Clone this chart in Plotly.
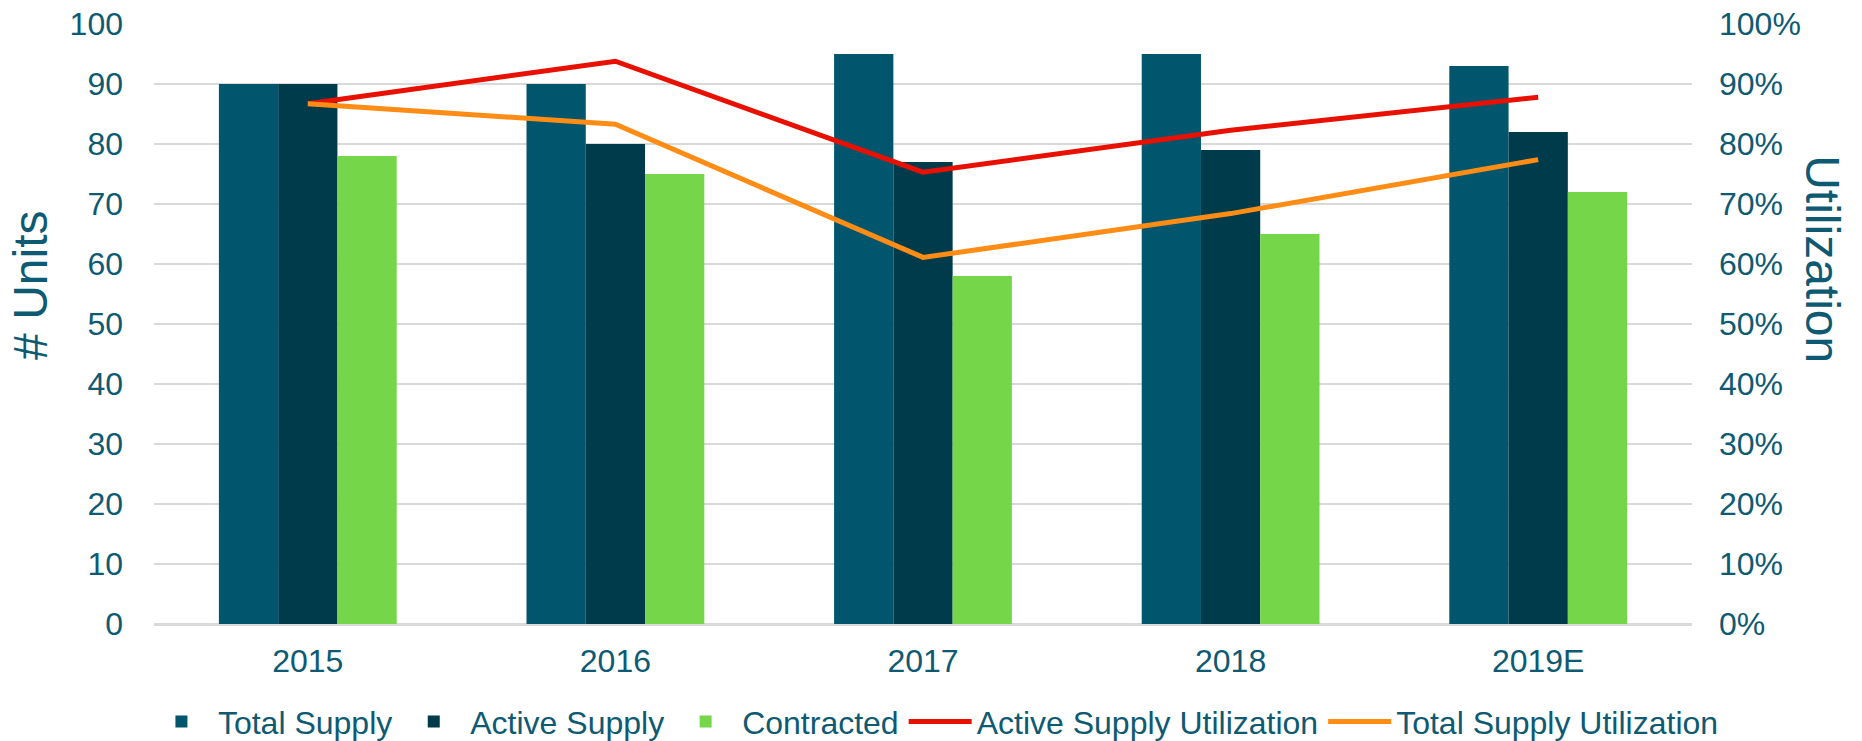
import plotly.graph_objects as go

categories = ["2015", "2016", "2017", "2018", "2019E"]
total_supply = [90, 90, 95, 95, 93]
active_supply = [90, 80, 77, 79, 82]
contracted = [78, 75, 58, 65, 72]
active_util = [0.867, 0.938, 0.753, 0.823, 0.878]
total_util = [0.867, 0.833, 0.611, 0.684, 0.774]

TEXT = "#0E5A72"
FONT = "Liberation Sans, Arial, sans-serif"

fig = go.Figure()
fig.add_trace(go.Bar(x=categories, y=total_supply, name="Total Supply",
                     marker=dict(color="#01566E", line=dict(width=0))))
fig.add_trace(go.Bar(x=categories, y=active_supply, name="Active Supply",
                     marker=dict(color="#003B4B", line=dict(width=0))))
fig.add_trace(go.Bar(x=categories, y=contracted, name="Contracted",
                     marker=dict(color="#75D64A", line=dict(width=0))))
fig.add_trace(go.Scatter(x=categories, y=active_util, name="Active Supply Utilization",
                         mode="lines", yaxis="y2",
                         line=dict(color="#E81000", width=5)))
fig.add_trace(go.Scatter(x=categories, y=total_util, name="Total Supply Utilization",
                         mode="lines", yaxis="y2",
                         line=dict(color="#FF8C14", width=5)))

fig.update_layout(
    template="none",
    width=1862, height=741,
    margin=dict(l=154, r=170, t=24, b=117, autoexpand=False),
    paper_bgcolor="white", plot_bgcolor="white",
    font=dict(family=FONT, size=32, color=TEXT),
    barmode="group", bargap=0.422, bargroupgap=0,
    showlegend=True,
    legend=dict(orientation="h", x=-0.0059, xanchor="left", y=-0.163, yanchor="middle",
                font=dict(size=32, color=TEXT), itemwidth=63,
                bgcolor="rgba(0,0,0,0)", tracegroupgap=0),
    xaxis=dict(type="category", showgrid=False, zeroline=False, showline=False,
               automargin=False, ticks="", tickfont=dict(size=32, color=TEXT),
               ticklabelstandoff=15),
    yaxis=dict(range=[0, 100], dtick=10, showgrid=True, gridcolor="#D9D9D9", gridwidth=2,
               zeroline=True, zerolinecolor="#D9D9D9", zerolinewidth=3,
               automargin=False, showline=False, ticks="",
               tickfont=dict(size=32, color=TEXT), ticklabelstandoff=30),
    yaxis2=dict(range=[0, 1], dtick=0.1, tickformat=".0%", overlaying="y", side="right",
                showgrid=False, zeroline=False, showline=False, ticks="",
                automargin=False, tickfont=dict(size=32, color=TEXT),
                ticklabelstandoff=26),
    annotations=[
        dict(text="# Units", x=-0.0807, y=0.565, xref="paper", yref="paper",
             textangle=-90, showarrow=False, xanchor="center", yanchor="middle",
             font=dict(size=48, color=TEXT, family=FONT)),
        dict(text="Utilization", x=1.0852, y=0.608, xref="paper", yref="paper",
             textangle=90, showarrow=False, xanchor="center", yanchor="middle",
             font=dict(size=48, color=TEXT, family=FONT)),
    ],
)

fig.write_html("out.html",
               config={"displayModeBar": False},
               post_script="document.body.style.margin='0';document.body.style.overflow='hidden';")
